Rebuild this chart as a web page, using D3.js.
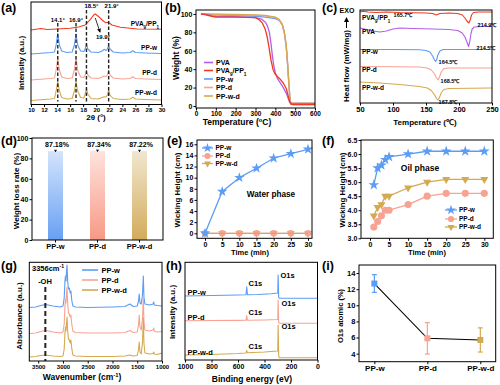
<!DOCTYPE html>
<html>
<head>
<meta charset="utf-8">
<script src="https://cdn.jsdelivr.net/npm/d3@7"></script>
<style>
  body { margin: 0; background: #fff; }
  svg text { font-family: "Liberation Sans", Arial, sans-serif; font-weight: bold; fill: #000; }
</style>
</head>
<body>
<div id="fig"></div>
<script>
// ---------------- data ----------------
const samples = ["PP-w", "PP-d", "PP-w-d"];

// (a) XRD, [2theta, intensity a.u. (stacked)]
const xrdPeaks = [14.1, 16.9, 18.5, 21.9];
const xrdMix = [[10,75],[11.5,76.5],[12.5,75.5],[14,76],[16,76.7],[17.3,78],[18.3,80],[19.1,85.7],[19.6,90],[19.85,91],[20.4,88.3],[20.9,85],[21.4,82.3],[21.9,82.7],[22.4,80],[23.7,77.7],[26.3,76],[30,75.7]];
const xrdPPw = [[10,51],[12,52],[13,52.5],[13.6,53],[13.85,60],[14.1,71.7],[14.35,60],[14.7,54],[15.5,52.5],[16.3,53],[16.65,60],[16.9,71],[17.15,60],[17.6,54],[18.1,53.5],[18.3,56],[18.5,61.7],[18.7,56],[19.2,53],[20.3,52.5],[20.9,54],[21.2,55.7],[21.5,54.5],[21.7,56],[21.9,59.3],[22.1,56],[22.6,53],[24,52],[25.2,52.5],[25.6,54.3],[26,52.5],[27.5,52],[30,51.5]];
const xrdPPd = [[10,25],[12,26],[13,26.5],[13.6,27],[13.85,35],[14.1,46.7],[14.35,35],[14.7,28],[15.5,26.5],[16.3,27],[16.65,35],[16.9,46.7],[17.15,35],[17.6,28],[18.1,27.5],[18.3,30],[18.5,34.3],[18.7,30],[19.2,27],[20.3,26.5],[20.9,28],[21.2,29],[21.5,28.5],[21.7,30],[21.9,34.3],[22.1,30],[22.6,27],[24,26],[25.2,26.5],[25.6,28.3],[26,26.5],[27.5,26],[30,25.5]];
const xrdPPwd = [[10,4.5],[12,5.5],[13,6],[13.6,6.5],[13.85,14],[14.1,23.3],[14.35,14],[14.7,7.5],[15.5,6],[16.3,6.5],[16.65,14],[16.9,23.3],[17.15,14],[17.6,7.5],[18.1,7],[18.3,11],[18.5,16.7],[18.7,11],[19.2,6.5],[20.3,6],[20.9,7.5],[21.2,8.3],[21.5,8],[21.7,10],[21.9,15],[22.1,10],[22.6,6.5],[24,5.5],[25.2,6],[25.6,7.7],[26,6],[27.5,5.5],[30,5]];

// (b) TGA, [temperature C, weight %]
const tgaPVA = [[25,100],[50,99.5],[80,98],[100,97.5],[200,97],[300,96],[330,94.5],[350,91],[360,87],[370,80],[378,68],[385,55],[392,44],[400,36],[410,30],[425,25],[440,20],[455,14],[465,8],[472,4],[480,2.8],[600,2.8]];
const tgaMix = [[25,100],[50,99],[80,97.5],[100,96.5],[200,96.5],[300,96],[320,93.5],[335,90],[348,84],[358,76],[368,64],[378,50],[388,40],[398,35],[410,32],[425,29],[440,25],[455,19],[465,11],[472,5],[478,2],[490,1.5],[600,1.5]];
const tgaPPw = [[25,100],[100,99],[200,98.5],[300,97.5],[350,96.5],[400,95],[420,93],[435,88],[445,80],[455,65],[462,45],[468,25],[473,10],[477,4],[485,2.5],[600,2.5]];
const tgaPPd = [[25,100],[100,99.5],[200,99],[300,98.5],[350,98],[400,96],[420,93.5],[435,88],[445,80],[455,64],[462,44],[468,24],[473,9],[477,3],[485,1.5],[600,1.5]];
const tgaPPwd = [[25,100],[100,99.8],[200,99.5],[300,99],[350,98.5],[400,96.5],[420,94],[435,89],[445,81],[455,66],[462,46],[468,26],[473,10],[477,4],[485,3],[600,3]];

// (c) DSC, [temperature C, heat flow a.u. (stacked)]
const dscMix = [[50,91],[55,91.8],[62,91],[75,90.5],[90,91],[110,90.5],[130,90.3],[150,90],[160,89.5],[165.7,88],[171,89.5],[185,90],[198,89.5],[205,88],[209,85],[212,82],[214.9,80],[217,83],[219,88],[222,90.5],[230,91],[250,91]];
const dscPVA = [[50,75],[60,73.5],[70,72],[80,71],[90,72],[100,74],[110,75],[130,74.5],[160,74],[185,73.5],[198,72.5],[205,70],[209,66],[212,61],[214.5,56.5],[216.5,62],[218,69],[220,74],[223,76],[235,76.5],[250,76.5]];
const dscPPw = [[50,53.5],[100,53.5],[140,53.3],[150,52.5],[156,51],[160,47],[163,43],[164.5,41.5],[166,43],[168,48],[171,52],[176,53.5],[200,53.5],[250,53.5]];
const dscPPd = [[50,36.5],[100,36.3],[140,36],[152,35],[158,33],[163,29],[166,25],[168.5,23],[170.5,26],[173,31],[177,34.5],[185,35],[250,35]];
const dscPPwd = [[50,21],[80,20],[110,18.5],[140,16.5],[152,15],[158,12.5],[163,8],[166,4.5],[167.8,3],[170,5],[173,10],[177,13.5],[185,14.5],[250,15]];

// (d) weight loss rate %
const weightLoss = [87.18, 87.34, 87.22];

// (e) water phase wicking, (f) oil phase wicking
const timeWater = [0, 5, 10, 15, 20, 25, 30];
const waterPPw = [0, 7.5, 10, 11.7, 13.5, 14.3, 15.1];
const waterPPd = [0, 0, 0, 0, 0, 0, 0];
const waterPPwd = [0, 0, 0, 0, 0, 0, 0];
const timeOil = [1, 2, 3, 4, 5, 10, 15, 20, 25, 30];
const oilPPw = [4.9, 5.5, 5.6, 5.8, 5.9, 6.0, 6.1, 6.1, 6.1, 6.1];
const oilPPd = [3.4, 3.6, 3.8, 4.0, 4.0, 4.2, 4.5, 4.6, 4.6, 4.6];
const oilPPwd = [3.8, 4.1, 4.2, 4.5, 4.5, 4.8, 5.0, 5.1, 5.1, 5.1];

// (g) FTIR, [wavenumber, absorbance a.u. (stacked)]
const ftirPPw = [[3680,53.5],[3550,54],[3450,55.5],[3350,56.5],[3200,55],[3050,54],[3000,55],[2975,63],[2960,80],[2950,85],[2938,80],[2925,92],[2918,96],[2905,80],[2890,72],[2870,73],[2855,68],[2840,70],[2820,60],[2800,55],[2750,54],[2500,53.5],[2000,54],[1750,54.5],[1650,57],[1580,54.5],[1500,55],[1475,60],[1460,67],[1445,58],[1420,57],[1395,66],[1377,85],[1365,64],[1345,57],[1250,56],[1180,57],[1167,59],[1155,56],[1100,55.5],[1000,55]];
const ftirPPd = [[3680,27.5],[3550,28],[3450,29.5],[3350,30.5],[3200,29],[3050,28],[3000,29],[2975,37],[2960,55],[2950,62],[2938,58],[2925,70],[2918,74],[2905,58],[2890,48],[2870,47],[2855,44],[2840,46],[2820,36],[2800,30],[2750,28.5],[2500,28],[2000,28],[1750,28.5],[1650,30.5],[1580,28.5],[1500,29],[1475,36],[1460,46],[1445,34],[1420,31],[1395,42],[1377,64],[1365,40],[1345,31],[1250,30],[1180,31],[1167,33],[1155,30],[1100,29],[1000,29.5]];
const ftirPPwd = [[3680,4],[3550,4.5],[3450,5.5],[3350,6],[3200,5],[3050,4.5],[3000,5],[2975,12],[2960,28],[2950,34],[2938,30],[2925,40],[2918,44],[2905,30],[2890,22],[2870,21],[2855,18],[2840,21],[2820,12],[2800,6],[2750,5],[2500,4.5],[2000,4.5],[1750,5],[1650,6],[1580,5],[1500,5.5],[1475,11],[1460,19],[1445,9],[1420,7],[1395,18],[1377,43],[1365,18],[1345,8],[1250,7],[1180,7.5],[1167,9],[1155,7],[1100,6.5],[1000,8]];
const ohBand = 3356;

// (h) XPS survey, [binding energy eV, intensity a.u. (stacked)]
const xpsPPw = [[1000,64],[800,64.5],[600,65],[540,65.3],[534,73.3],[529,65.3],[450,65.5],[350,66.3],[300,67],[297,85],[293,63],[288,61.7],[0,61.7]];
const xpsPPd = [[1000,39.3],[800,39.5],[600,39.6],[540,39.7],[534,44.3],[529,39.7],[400,40],[300,40.5],[297,60],[293,38],[288,36.7],[0,36.7]];
const xpsPPwd = [[1000,5],[800,5.5],[600,6.5],[540,7],[534,9.5],[529,7.2],[400,8],[300,9],[297,35],[293,4],[288,2.3],[0,2.3]];

// (i) O1s atomic %
const o1s = [12.7, 5.9, 5.7];
const o1sErr = [1.1, 1.95, 1.5];

// ---------------- colours ----------------
const cW = "#5b9cf5", cD = "#f7a292", cWD = "#d5a94f", cMix = "#f2391e", cPVA = "#b25fe8";

// ---------------- helpers ----------------
const svg = d3.select("#fig").append("svg").attr("width", 500).attr("height", 385);
svg.append("rect").attr("width", 500).attr("height", 385).attr("fill", "#fff");

function panel(b, xd, yd) {
  return {
    b: b,
    x: d3.scaleLinear().domain(xd).range([b[0], b[1]]),
    y: d3.scaleLinear().domain(yd).range([b[3], b[2]])
  };
}
function frame(p) {
  const b = p.b;
  svg.append("rect").attr("x", b[0]).attr("y", b[2]).attr("width", b[1] - b[0]).attr("height", b[3] - b[2])
    .attr("fill", "none").attr("stroke", "#000").attr("stroke-width", 1);
}
function styleAxis(g, fs) {
  g.select(".domain").remove();
  g.attr("font-size", fs).attr("font-family", null);
  g.selectAll("line").attr("stroke", "#000");
}
function axisX(p, scale, ticks, fs, fmt) {
  const ax = d3.axisBottom(scale).tickSizeOuter(0).tickSizeInner(2.5).tickPadding(1.2);
  if (ticks) ax.tickValues(ticks);
  ax.tickFormat(fmt || (d => d));
  const g = svg.append("g").attr("transform", `translate(0,${p.b[3]})`).call(ax);
  styleAxis(g, fs);
  return g;
}
function axisY(p, scale, ticks, fs, fmt) {
  const ax = d3.axisLeft(scale).tickValues(ticks).tickSizeOuter(0).tickSizeInner(2.5).tickPadding(1.2).tickFormat(fmt || (d => d));
  const g = svg.append("g").attr("transform", `translate(${p.b[0]},0)`).call(ax);
  styleAxis(g, fs);
  return g;
}
function txt(x, y, s, fs, anchor) {
  return svg.append("text").attr("x", x).attr("y", y).attr("font-size", fs)
    .attr("text-anchor", anchor || "start").text(s);
}
function rich(x, y, parts, fs, anchor) {
  const t = svg.append("text").attr("x", x).attr("y", y).attr("font-size", fs).attr("text-anchor", anchor || "start");
  parts.forEach(([s, k]) => {
    const ts = t.append("tspan").text(s);
    if (k) ts.attr("baseline-shift", k).attr("font-size", fs * 0.68);
  });
  return t;
}
function ytitle(x, y, parts, fs) {
  const t = svg.append("text").attr("transform", `translate(${x},${y}) rotate(-90)`)
    .attr("text-anchor", "middle").attr("font-size", fs);
  parts.forEach(([s, k]) => {
    const ts = t.append("tspan").text(s);
    if (k) ts.attr("baseline-shift", k).attr("font-size", fs * 0.68);
  });
}
function curve(p, pts, color, w) {
  svg.append("path").datum(pts)
    .attr("d", d3.line().x(d => p.x(d[0])).y(d => p.y(d[1])))
    .attr("fill", "none").attr("stroke", color).attr("stroke-width", w || 1).attr("stroke-linejoin", "round");
}
function series(p, xs, ys, color, w) {
  curve(p, xs.map((t, i) => [t, ys[i]]), color, w);
}
const symType = { star: d3.symbolStar, circle: d3.symbolCircle, tri: d3.symbolTriangle, square: d3.symbolSquare };
function marks(p, xs, ys, kind, color, size) {
  svg.append("g").selectAll("path").data(xs.map((t, i) => [t, ys[i]])).join("path")
    .attr("transform", d => `translate(${p.x(d[0])},${p.y(d[1])})` + (kind === "tri" ? " rotate(180)" : ""))
    .attr("d", d3.symbol().type(symType[kind]).size(size)).attr("fill", color);
}
function mixParts() { return [["PVA"], ["9", "sub"], ["/PP"], ["1", "sub"]]; }
function letter(x, y, s) { txt(x, y, s, 12.5); }

// ---------------- (a) XRD ----------------
{
  const p = panel([31, 161.5, 2, 104.5], [10, 30], [0.5, 103]);
  curve(p, xrdMix, cMix, 1.1);
  curve(p, xrdPPw, cW, 1.1);
  curve(p, xrdPPd, cD, 1.1);
  curve(p, xrdPPwd, cWD, 1.1);
  const tops = [82, 82, 95, 95];
  xrdPeaks.forEach((v, i) => {
    svg.append("line").attr("x1", p.x(v)).attr("x2", p.x(v)).attr("y1", p.y(tops[i])).attr("y2", p.y(3.5))
      .attr("stroke", "#222").attr("stroke-width", 1.4).attr("stroke-dasharray", "3.5,2");
  });
  txt(p.x(14.1), 21.5, "14.1°", 6, "middle");
  txt(p.x(16.9), 21.5, "16.9°", 6, "middle");
  txt(p.x(18.5) + 5, 7.5, "18.5°", 6, "middle");
  txt(p.x(21.9) + 3, 8, "21.9°", 6, "middle");
  txt(103, 39, "19.9°", 6, "middle");
  svg.append("defs").append("marker").attr("id", "arr").attr("viewBox", "0 0 10 10").attr("refX", 8).attr("refY", 5)
    .attr("markerWidth", 5).attr("markerHeight", 5).attr("orient", "auto")
    .append("path").attr("d", "M0,0L10,5L0,10z").attr("fill", "#000");
  svg.append("line").attr("x1", p.x(19.85)).attr("y1", p.y(87)).attr("x2", 100).attr("y2", 32)
    .attr("stroke", "#000").attr("stroke-width", 0.8).attr("marker-end", "url(#arr)");
  rich(159, 26, mixParts(), 6.5, "end");
  txt(157, 50, "PP-w", 6.5, "end");
  txt(157, 75, "PP-d", 6.5, "end");
  txt(157, 95, "PP-w-d", 6.5, "end");
  frame(p);
  axisX(p, p.x, d3.range(10, 31, 2), 6);
  rich(96, 120, [["2θ (°)"]], 8, "middle");
  ytitle(24, 63, [["Intensity (a.u.)"]], 8);
  letter(1, 12, "(a)");
}

// ---------------- (b) TGA ----------------
{
  const p = panel([196, 315, 10, 108], [0, 600], [-2.2, 104.3]);
  curve(p, tgaPPw, cW, 1.3);
  curve(p, tgaPPd, cD, 1.3);
  curve(p, tgaPPwd, cWD, 1.3);
  curve(p, tgaPVA, cPVA, 1.3);
  curve(p, tgaMix, cMix, 1.3);
  frame(p);
  axisX(p, p.x, d3.range(0, 601, 100), 6.5);
  axisY(p, p.y, d3.range(0, 101, 20), 7);
  const leg = [["PVA", cPVA], [null, cMix], ["PP-w", cW], ["PP-d", cD], ["PP-w-d", cWD]];
  const ly = [62.5, 70.5, 79, 87.5, 96];
  leg.forEach(([s, c], i) => {
    svg.append("line").attr("x1", 204).attr("x2", 213).attr("y1", ly[i]).attr("y2", ly[i]).attr("stroke", c).attr("stroke-width", 1.6);
    if (s) txt(216, ly[i] + 2.5, s, 7);
    else rich(216, ly[i] + 2.5, mixParts(), 7);
  });
  rich(237, 125, [["Temperature ("], ["o", "super"], ["C)"]], 8.5, "middle");
  ytitle(179, 58, [["Weight (%)"]], 8.5);
  letter(165, 12, "(b)");
}

// ---------------- (c) DSC ----------------
{
  const p = panel([360, 492, 10, 103], [50, 250], [0, 93]);
  curve(p, dscMix, cMix, 1.1);
  curve(p, dscPVA, cPVA, 1.1);
  curve(p, dscPPw, cW, 1.1);
  curve(p, dscPPd, cD, 1.1);
  curve(p, dscPPwd, cWD, 1.1);
  frame(p);
  axisX(p, p.x, d3.range(50, 251, 50), 7.5);
  rich(362, 19.5, mixParts(), 6.5);
  txt(362, 34, "PVA", 6.5);
  txt(362, 54, "PP-w", 6.5);
  txt(362, 72, "PP-d", 6.5);
  txt(362, 90, "PP-w-d", 6.5);
  txt(403, 17, "165.7℃", 5.5, "middle");
  txt(487, 27, "214.9℃", 5.5, "middle");
  txt(486, 50, "214.5℃", 5.5, "middle");
  txt(448, 64, "164.5℃", 5.5, "middle");
  txt(450, 83, "168.5℃", 5.5, "middle");
  txt(448, 104, "167.8℃", 5.5, "middle");
  txt(347, 13, "EXO", 7, "middle");
  svg.append("line").attr("x1", 346.5).attr("x2", 346.5).attr("y1", 28).attr("y2", 18)
    .attr("stroke", "#000").attr("stroke-width", 1).attr("marker-end", "url(#arr)");
  rich(425, 124.5, [["Temperature (℃)"]], 8, "middle");
  ytitle(349, 66, [["Heat flow (mW/mg)"]], 8);
  letter(322, 12, "(c)");
}

// ---------------- (d) weight loss bars ----------------
{
  const b = [32, 163, 138, 240];
  const x = d3.scaleBand().domain(samples).range([b[0], b[1]]).paddingInner(0.643).paddingOuter(0.381);
  const y = d3.scaleLinear().domain([0, 100]).range([b[3], b[2]]);
  const p = { b, x, y };
  const grads = [["#d4e4fc", "#68a0f3"], ["#fee3de", "#f79985"], ["#f0e7d0", "#d3ab5b"]];
  const defs = svg.append("defs");
  grads.forEach((g, i) => {
    const lg = defs.append("linearGradient").attr("id", "bar" + i).attr("x1", 0).attr("x2", 0).attr("y1", 0).attr("y2", 1);
    lg.append("stop").attr("offset", "0%").attr("stop-color", g[0]);
    lg.append("stop").attr("offset", "100%").attr("stop-color", g[1]);
  });
  svg.append("g").selectAll("rect").data(weightLoss).join("rect")
    .attr("x", (d, i) => x(samples[i])).attr("width", x.bandwidth())
    .attr("y", d => y(d)).attr("height", d => y(0) - y(d))
    .attr("fill", (d, i) => `url(#bar${i})`);
  weightLoss.forEach((d, i) => {
    const cx = x(samples[i]) + x.bandwidth() / 2;
    svg.append("line").attr("x1", cx).attr("x2", cx).attr("y1", y(d + 0.8)).attr("y2", y(d - 0.8)).attr("stroke", "#000").attr("stroke-width", 1);
    svg.append("line").attr("x1", cx - 1.5).attr("x2", cx + 1.5).attr("y1", y(d + 0.8)).attr("y2", y(d + 0.8)).attr("stroke", "#000").attr("stroke-width", 0.8);
    txt(cx + 1.5, 147, d.toFixed(2) + "%", 7, "middle");
  });
  frame(p);
  axisY(p, y, d3.range(0, 101, 20), 7);
  axisX(p, x, null, 7.5);
  ytitle(18.5, 191, [["Weight loss rate (%)"]], 8);
  letter(1, 145, "(d)");
}

// ---------------- (e) water phase ----------------
{
  const p = panel([197, 312, 140, 238.3], [-2.34, 31.17], [-0.9, 16.77]);
  marks(p, timeWater, waterPPwd, "tri", cWD, 26);
  series(p, timeWater, waterPPd, cD, 1.3);
  marks(p, timeWater, waterPPd, "circle", cD, 34);
  series(p, timeWater, waterPPwd, cWD, 1.3);
  series(p, timeWater, waterPPw, cW, 1.3);
  marks(p, timeWater, waterPPw, "star", cW, 34);
  frame(p);
  axisX(p, p.x, d3.range(0, 31, 5), 7);
  axisY(p, p.y, d3.range(0, 17, 2), 7);
  const leg = [["PP-w", cW, "star"], ["PP-d", cD, "circle"], ["PP-w-d", cWD, "tri"]];
  const ly = [148, 156, 163.5];
  leg.forEach(([s, c, k], i) => {
    svg.append("line").attr("x1", 202).attr("x2", 213).attr("y1", ly[i]).attr("y2", ly[i]).attr("stroke", c).attr("stroke-width", 1.3);
    svg.append("path").attr("transform", `translate(207.5,${ly[i]})` + (k === "tri" ? " rotate(180)" : ""))
      .attr("d", d3.symbol().type(symType[k]).size(k === "tri" ? 20 : 28)).attr("fill", c);
    txt(215.5, ly[i] + 2.3, s, 6.5);
  });
  txt(271, 197, "Water phase", 8.2, "middle");
  txt(250, 255, "Time (min)", 7.5, "middle");
  ytitle(180, 190, [["Wicking Height (cm)"]], 7.8);
  letter(167, 145, "(e)");
}

// ---------------- (f) oil phase ----------------
{
  const p = panel([361, 493.3, 140, 238.3], [-2.36, 32.36], [3.0, 6.5]);
  series(p, timeOil, oilPPd, cD, 1.3);
  marks(p, timeOil, oilPPd, "circle", cD, 40);
  series(p, timeOil, oilPPwd, cWD, 1.3);
  marks(p, timeOil, oilPPwd, "tri", cWD, 28);
  series(p, timeOil, oilPPw, cW, 1.3);
  marks(p, timeOil, oilPPw, "star", cW, 36);
  frame(p);
  axisX(p, p.x, d3.range(0, 31, 5), 7);
  axisY(p, p.y, d3.range(3, 6.51, 0.5), 7, d3.format(".1f"));
  const leg = [["PP-w", cW, "star"], ["PP-d", cD, "circle"], ["PP-w-d", cWD, "tri"]];
  const ly = [210, 219, 227];
  leg.forEach(([s, c, k], i) => {
    svg.append("line").attr("x1", 445).attr("x2", 457).attr("y1", ly[i]).attr("y2", ly[i]).attr("stroke", c).attr("stroke-width", 1.3);
    svg.append("path").attr("transform", `translate(451,${ly[i]})` + (k === "tri" ? " rotate(180)" : ""))
      .attr("d", d3.symbol().type(symType[k]).size(k === "tri" ? 22 : 30)).attr("fill", c);
    txt(459, ly[i] + 2.3, s, 6.5);
  });
  txt(420, 171, "Oil phase", 8.5, "middle");
  txt(427, 255, "Time (min)", 7.5, "middle");
  ytitle(345, 190, [["Wicking Height (cm)"]], 7.8);
  letter(322, 145, "(f)");
}

// ---------------- (g) FTIR ----------------
{
  const p = panel([29.3, 162, 262.3, 361], [3680, 1000], [0, 98.7]);
  curve(p, ftirPPw, cW, 1.1);
  curve(p, ftirPPd, cD, 1.1);
  curve(p, ftirPPwd, cWD, 1.1);
  svg.append("line").attr("x1", p.x(ohBand)).attr("x2", p.x(ohBand)).attr("y1", p.y(74)).attr("y2", p.y(0))
    .attr("stroke", "#222").attr("stroke-width", 2).attr("stroke-dasharray", "5,3");
  rich(48, 271, [["3356cm"], ["-1", "super"]], 7.5, "middle");
  txt(45, 284, "-OH", 7.5, "middle");
  const leg = [["PP-w", cW], ["PP-d", cD], ["PP-w-d", cWD]];
  const ly = [270, 280, 290];
  leg.forEach(([s, c], i) => {
    svg.append("line").attr("x1", 82).attr("x2", 98).attr("y1", ly[i]).attr("y2", ly[i]).attr("stroke", c).attr("stroke-width", 1.6);
    txt(101.5, ly[i] + 2.7, s, 7.5);
  });
  frame(p);
  axisX(p, p.x, [3500, 3000, 2500, 2000, 1500, 1000], 6);
  rich(82, 380, [["Wavenumber (cm"], ["-1", "super"], [")"]], 8.5, "middle");
  ytitle(22, 316, [["Absorbance (a.u.)"]], 8);
  letter(1, 270, "(g)");
}

// ---------------- (h) XPS ----------------
{
  const p = panel([185, 317.5, 262.3, 360], [1000, 0], [0, 97.7]);
  curve(p, xpsPPw, cW, 1.1);
  curve(p, xpsPPd, cD, 1.1);
  curve(p, xpsPPwd, cWD, 1.1);
  txt(187.5, 294.5, "PP-w", 7.5);
  txt(187.5, 319.5, "PP-d", 7.5);
  txt(187.5, 355, "PP-w-d", 7.5);
  txt(248.5, 286, "C1s", 7.5);
  txt(248.5, 314.5, "C1s", 7.5);
  txt(248.5, 349, "C1s", 7.5);
  txt(280.5, 277.5, "O1s", 7.5);
  txt(281.5, 306, "O1s", 7.5);
  txt(281.5, 328.5, "O1s", 7.5);
  frame(p);
  axisX(p, p.x, d3.range(1000, -1, -200), 7);
  txt(252, 382, "Binding energy (eV)", 8.5, "middle");
  ytitle(175, 312, [["Intensity (a.u.)"]], 8);
  letter(166, 270, "(h)");
}

// ---------------- (i) O1s atomic ----------------
{
  const b = [359, 495.7, 265, 361.7];
  const x = d3.scalePoint().domain(samples).range([b[0], b[1]]).padding(0.29);
  const y = d3.scaleLinear().domain([3, 15]).range([b[3], b[2]]);
  const p = { b, x, y };
  const cols = [cW, cD, cWD];
  svg.append("path").datum(o1s)
    .attr("d", d3.line().x((d, i) => x(samples[i])).y(d => y(d)))
    .attr("fill", "none").attr("stroke", "#000").attr("stroke-width", 1.1);
  o1s.forEach((d, i) => {
    const cx = x(samples[i]);
    const g = svg.append("g").attr("stroke", cols[i]).attr("stroke-width", 1.2);
    g.append("line").attr("x1", cx).attr("x2", cx).attr("y1", y(d - o1sErr[i])).attr("y2", y(d + o1sErr[i]));
    g.append("line").attr("x1", cx - 2.5).attr("x2", cx + 2.5).attr("y1", y(d - o1sErr[i])).attr("y2", y(d - o1sErr[i]));
    g.append("line").attr("x1", cx - 2.5).attr("x2", cx + 2.5).attr("y1", y(d + o1sErr[i])).attr("y2", y(d + o1sErr[i]));
    svg.append("rect").attr("x", cx - 3).attr("y", y(d) - 3).attr("width", 6).attr("height", 6).attr("fill", cols[i]);
  });
  frame(p);
  axisY(p, y, d3.range(4, 15, 2), 7.5);
  axisX(p, x, null, 8);
  ytitle(343, 316, [["O1s atomic (%)"]], 7.5);
  letter(322, 270, "(i)");
}
</script>
</body>
</html>
